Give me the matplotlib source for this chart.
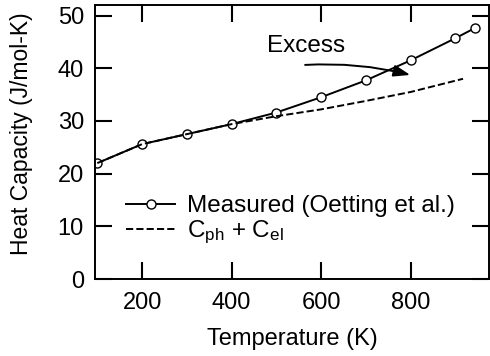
import matplotlib.pyplot as plt

plt.rcParams['font.family'] = ['Liberation Sans', 'DejaVu Sans']
plt.rcParams['mathtext.default'] = 'regular'

# measured heat capacity (Oetting et al.)
temp_meas = [100, 200, 300, 400, 500, 600, 700, 800, 900, 943]
cp_meas = [22.0, 25.6, 27.5, 29.4, 31.6, 34.5, 37.7, 41.5, 45.7, 47.6]

# phonon + electronic contribution
temp_calc = [100, 200, 300, 400, 500, 600, 700, 800, 917]
cp_calc = [22.0, 25.6, 27.5, 29.4, 30.9, 32.2, 33.8, 35.5, 38.0]

fig = plt.figure(figsize=(4.9, 3.56), dpi=100)
ax = fig.add_axes([0.194, 0.216, 0.804, 0.77])

ax.plot(temp_meas, cp_meas, '-o', color='black', lw=1.4, ms=6.5,
        mfc='white', mec='black', mew=1.0, label='Measured (Oetting et al.)')
ax.plot(temp_calc, cp_calc, '--', color='black', lw=1.4,
        label='C$_{ph}$ + C$_{el}$')

ax.annotate('', xy=(805, 38.6), xytext=(558, 40.6),
            arrowprops=dict(arrowstyle='-|>,head_length=1.0,head_width=0.35',
                            color='black', lw=1.4,
                            connectionstyle='arc3,rad=-0.08'))
ax.text(566, 44.3, 'Excess', fontsize=17.5, ha='center', va='center')

ax.set_xlim(95, 975)
ax.set_ylim(0, 52)
ax.set_xticks([200, 400, 600, 800])
ax.set_yticks([0, 10, 20, 30, 40, 50])
ax.tick_params(direction='in', length=12, width=1.5, top=True, right=True,
               labelsize=17)
ax.tick_params(axis='x', pad=9)
ax.tick_params(axis='y', pad=8)
for s in ax.spines.values():
    s.set_linewidth(1.4)

ax.set_xlabel('Temperature (K)', fontsize=17)
ax.set_ylabel('Heat Capacity (J/mol-K)', fontsize=16.5)
ax.xaxis.set_label_coords(0.5, -0.178)
ax.yaxis.set_label_coords(-0.157, 0.53)

ax.legend(loc='lower left', bbox_to_anchor=(0.055, 0.085), frameon=False,
          fontsize=17.5, handlelength=2.0, handletextpad=0.5, labelspacing=0.05,
          borderaxespad=0)

fig.savefig('out.png', dpi=100)
